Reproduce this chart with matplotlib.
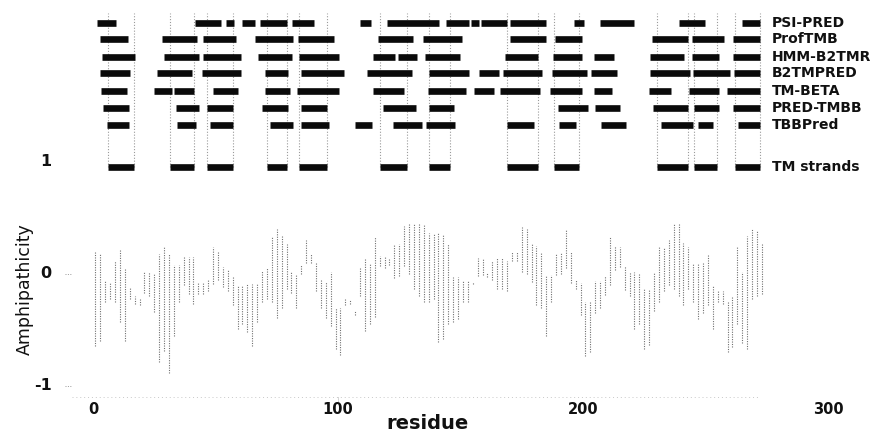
import matplotlib
matplotlib.use("Agg")
import matplotlib.pyplot as plt

# ---------------- data ----------------
methods = ["PSI-PRED", "ProfTMB", "HMM-B2TMR", "B2TMPRED", "TM-BETA",
           "PRED-TMBB", "TBBPred", "TM strands"]
row_y = [2.245, 2.10, 1.935, 1.792, 1.634, 1.482, 1.330, 0.955]

psipred = [(1.6, 9.4), (41.6, 52.2), (54.3, 57.6), (60.8, 66.1), (68.2, 79.2),
           (81.2, 90.2), (109.0, 113.5), (120.0, 141.2), (144.1, 153.5),
           (154.3, 157.6), (158.4, 169.0), (170.2, 184.9), (196.3, 200.4),
           (206.9, 220.8), (239.2, 249.8), (264.9, 272.2)]
proftmb = [(2.9, 14.3), (28.2, 42.4), (44.9, 58.4), (66.1, 81.6), (83.7, 98.4),
           (116.3, 130.6), (134.7, 150.6), (170.2, 184.9), (188.6, 199.6),
           (228.2, 242.9), (244.5, 257.6), (261.2, 272.2)]
hmmb2tmr = [(3.7, 17.1), (29.0, 43.3), (44.9, 60.4), (67.3, 81.2), (84.1, 100.4),
            (114.3, 123.3), (124.5, 132.2), (135.5, 149.8), (168.2, 181.6),
            (187.8, 199.6), (204.5, 212.7), (227.3, 241.2), (244.5, 255.5),
            (261.2, 272.2)]
b2tmpred = [(2.9, 15.1), (26.1, 40.4), (44.5, 60.4), (70.2, 79.6), (84.9, 102.4),
            (111.8, 130.2), (137.1, 153.5), (157.6, 165.7), (167.3, 183.3),
            (187.3, 201.6), (203.3, 213.9), (227.3, 243.7), (244.9, 260.0),
            (261.6, 272.2)]
tmbeta = [(3.3, 13.9), (24.9, 32.2), (33.1, 41.2), (49.0, 59.2), (70.2, 80.4),
          (83.3, 100.4), (114.3, 126.9), (136.7, 152.2), (155.5, 163.7),
          (166.1, 182.4), (186.5, 199.6), (204.5, 211.8), (226.9, 235.9),
          (243.3, 255.5), (258.8, 272.2)]
predtmbb = [(4.1, 14.7), (33.9, 43.3), (46.5, 57.1), (69.0, 79.6), (84.9, 95.5),
            (118.4, 131.8), (137.1, 147.3), (189.8, 202.0), (204.9, 215.1),
            (228.6, 242.9), (245.3, 255.5), (261.2, 272.2)]
tbbpred = [(5.7, 14.7), (34.3, 42.0), (47.8, 57.1), (72.2, 81.6), (84.9, 96.3),
           (106.9, 113.9), (122.4, 134.3), (135.9, 147.8), (169.0, 180.0),
           (190.2, 197.1), (207.3, 217.6), (231.8, 244.9), (246.9, 253.1),
           (263.3, 272.2)]
tm_strands = [(6.1, 16.7), (31.4, 41.2), (46.5, 57.1), (71.0, 79.2), (84.1, 95.5),
              (117.1, 128.2), (137.1, 145.7), (169.0, 181.6), (188.2, 198.4),
              (230.2, 242.9), (245.3, 254.7), (262.0, 272.2)]

segments = [psipred, proftmb, hmmb2tmr, b2tmpred, tmbeta, predtmbb, tbbpred, tm_strands]

# amphipathicity: residue positions with local upper / lower values
amph_res = list(range(1, 275, 2))
amph_hi = [0.20, 0.18, -0.05, -0.07, 0.12, 0.21, 0.05, -0.12, -0.20, -0.22,
           0.03, 0.02, 0.00, 0.18, 0.25, 0.18, 0.08, 0.08, 0.15, 0.15,
           0.15, -0.07, -0.08, -0.05, 0.24, 0.20, 0.06, 0.04, -0.02, -0.10,
           -0.10, -0.09, -0.09, -0.09, 0.03, 0.05, 0.34, 0.40, 0.35, 0.27,
           0.02, 0.00, 0.08, 0.30, 0.18, 0.10, -0.05, -0.07, 0.02, -0.30,
           -0.30, -0.22, -0.23, -0.33, 0.05, 0.13, 0.10, 0.33, 0.16, 0.16,
           0.14, 0.27, 0.27, 0.43, 0.45, 0.45, 0.45, 0.45, 0.37, 0.37,
           0.37, 0.35, 0.27, -0.03, -0.03, -0.05, -0.06, -0.07, 0.14, 0.14,
           0.01, 0.12, 0.14, 0.14, 0.12, 0.20, 0.20, 0.42, 0.40, 0.27,
           0.25, 0.20, -0.01, -0.01, 0.19, 0.19, 0.39, 0.20, -0.05, -0.08,
           -0.25, -0.25, -0.06, -0.06, -0.02, 0.33, 0.25, 0.24, 0.07, 0.02,
           0.02, 0.00, -0.13, -0.13, 0.02, 0.24, 0.24, 0.30, 0.45, 0.45,
           0.28, 0.24, 0.10, 0.10, 0.10, 0.18, -0.11, -0.15, -0.15, -0.25,
           -0.20, 0.25, 0.02, 0.34, 0.40, 0.38, 0.28]
amph_lo = [-0.64, -0.60, -0.25, -0.22, -0.25, -0.43, -0.60, -0.22, -0.27, -0.28,
           -0.17, -0.20, -0.34, -0.79, -0.69, -0.88, -0.55, -0.25, -0.10, -0.18,
           -0.27, -0.18, -0.18, -0.15, -0.09, -0.05, -0.12, -0.15, -0.28, -0.49,
           -0.45, -0.52, -0.64, -0.43, -0.25, -0.22, -0.25, -0.39, -0.30, -0.13,
           -0.17, -0.30, 0.00, 0.10, 0.10, -0.15, -0.30, -0.39, -0.46, -0.67,
           -0.72, -0.28, -0.27, -0.37, -0.20, -0.51, -0.45, -0.38, 0.07, 0.05,
           0.08, -0.04, -0.02, 0.07, 0.00, -0.13, -0.20, -0.25, -0.25, -0.22,
           -0.61, -0.58, -0.45, -0.43, -0.40, -0.25, -0.25, -0.09, -0.02, -0.01,
           -0.03, -0.05, -0.13, -0.13, -0.15, 0.12, 0.12, 0.02, 0.00, -0.07,
           -0.28, -0.30, -0.55, -0.25, -0.01, 0.00, 0.05, -0.08, -0.13, -0.37,
           -0.73, -0.70, -0.35, -0.30, -0.19, -0.10, 0.04, 0.06, -0.14, -0.20,
           -0.49, -0.45, -0.67, -0.63, -0.33, -0.25, -0.15, -0.10, -0.13, -0.20,
           -0.28, -0.13, -0.25, -0.40, -0.35, -0.28, -0.49, -0.25, -0.27, -0.70,
           -0.65, -0.45, -0.62, -0.67, -0.22, -0.20, -0.18]

x_ticks = [0, 100, 200, 300]
y_ticks = [1, 0, -1]
y_tick_labels = ["1", "0", "-1"]

# ---------------- figure ----------------
plt.rcParams['font.family'] = ['DejaVu Sans']
fig = plt.figure(figsize=(8.9, 4.34), dpi=100)
ax = fig.add_axes([0, 0, 1, 1])
ax.set_xlim(-37.96, 325.3)
ax.set_ylim(-1.4286, 2.4464)
ax.axis('off')

# vertical guide lines at strand edges
top_guide = 2.33
for s, e in tm_strands:
    ax.vlines([s, e], row_y[-1], top_guide, colors='#9a9a9a', linewidth=0.8,
              linestyles=(0, (1, 1.6)), zorder=1)

# prediction bars
for segs, y in zip(segments, row_y):
    xs0 = [a for a, b in segs]
    xs1 = [b for a, b in segs]
    ax.hlines([y] * len(segs), xs0, xs1, colors='#0a0a0a', linewidth=4.8,
              capstyle='butt', zorder=3)

# method labels
for name, y in zip(methods, row_y):
    ax.text(277.2, y, name, fontsize=10, fontweight='bold', va='center',
            ha='left', color='#111111')

# amphipathicity strokes
ax.vlines(amph_res, amph_lo, amph_hi, colors='#707070', linewidth=0.8,
          linestyles=(0, (1, 1.2)), zorder=2)

# bottom axis line (faint dotted)
ax.hlines(-1.098, -8.5, 272, colors='#c8c8c8', linewidth=0.7,
          linestyles=(0, (1, 3)))
ax.vlines([100], -1.098, -1.15, colors='#aaaaaa', linewidth=0.7,
          linestyles=(0, (1, 1)))

# y ticks
for v, lab in zip(y_ticks, y_tick_labels):
    ax.text(-16.9, v, lab, fontsize=11.5, fontweight='bold', ha='right',
            va='center', color='#111111')
for v in [0, -1]:
    ax.hlines(v, -11.4, -8.6, colors='#999999', linewidth=0.7,
              linestyles=(0, (1, 1.5)))

# x ticks
for t in x_ticks:
    ax.text(t, -1.214, str(t), fontsize=10.5, fontweight='bold', ha='center',
            va='center', color='#111111')

ax.text(136.7, -1.335, "residue", fontsize=14, fontweight='bold', ha='center',
        va='center', color='#111111')
ax.text(-27.8, -0.134, "Amphipathicity", fontsize=12.5, rotation=90,
        ha='center', va='center', color='#111111')

fig.savefig("out.png", dpi=100)
